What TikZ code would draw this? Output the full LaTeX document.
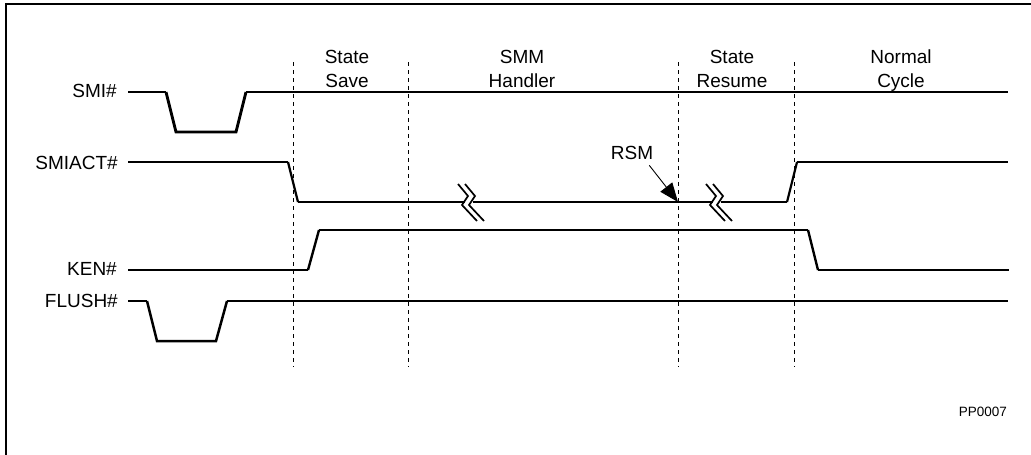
\documentclass[tikz,border=0pt]{standalone}
\usepackage{fontspec}
\setmainfont{Liberation Sans}
\usetikzlibrary{arrows.meta}
\begin{document}
\begin{tikzpicture}[x=1pt,y=-1pt,
  lbl/.style={font=\fontsize{19}{23}\selectfont, inner sep=0pt},
  small/.style={font=\fontsize{13.5}{16}\selectfont, inner sep=0pt},
  thinsig/.style={line width=1.8pt},
  thicksig/.style={line width=2.8pt},
  divider/.style={line width=1pt, dash pattern=on 4pt off 4pt},
  brk/.style={line width=1.7pt},
  brkfill/.style={fill=white, draw=none}]
\useasboundingbox (0,0) rectangle (1031,455);
% frame
\draw[line width=2.2pt] (6,456) -- (6,4) -- (1032,4);

% phase dividers
\foreach \xx/\nm in {293/d1,408/d2,678/d3,794/d4}{
  \coordinate (\nm t) at (\xx,62);
  \coordinate (\nm b) at (\xx,367);
  \draw[divider] (\nm t) -- (\nm b);
}

% header labels
\node[lbl, anchor=base] (h1a) at (347,63) {State};
\node[lbl, anchor=base] (h1b) at (347,87) {Save};
\node[lbl, anchor=base] (h2a) at (522,63) {SMM};
\node[lbl, anchor=base] (h2b) at (522,87) {Handler};
\node[lbl, anchor=base] (h3a) at (732,63) {State};
\node[lbl, anchor=base] (h3b) at (732,87) {Resume};
\node[lbl, anchor=base] (h4a) at (901,63) {Normal};
\node[lbl, anchor=base] (h4b) at (901,87) {Cycle};

% signal labels
\node[lbl, anchor=base east] (smi) at (117,97) {SMI\#};
\node[lbl, anchor=base east] (smiact) at (118,169) {SMIACT\#};
\node[lbl, anchor=base east] (ken) at (117,275) {KEN\#};
\node[lbl, anchor=base east] (flush) at (118,307) {FLUSH\#};

% SMI#
\draw[thinsig] (128,92) -- (166,92);
\draw[thicksig] (166,92) -- (176,132) -- (236,132) -- (246,92);
\draw[thinsig] (246,92) -- (1008,92);

% SMIACT#
\draw[thicksig] (128,162) -- (288,162);
\draw[line width=2.2pt] (288,162) -- (298,202);
\draw[thinsig] (298,202) -- (787,202);
\draw[line width=2.2pt] (787,202) -- (797,162);
\draw[thicksig] (797,162) -- (1008,162);

% breaks
\foreach \cx/\nm in {469/b1,717/b2}{
  \coordinate (\nm) at (\cx,202);
  \fill[brkfill] ([xshift=-4pt,yshift=-5pt]\nm) rectangle ([xshift=4pt,yshift=5pt]\nm);
  \draw[brk] ([xshift=8pt,yshift=-19pt]\nm) -- ([xshift=-7pt,yshift=-3pt]\nm) -- ([xshift=-1pt,yshift=6pt]\nm) -- ([xshift=-11pt,yshift=18pt]\nm);
  \draw[brk] ([xshift=15pt,yshift=-19pt]\nm) -- ([xshift=0pt,yshift=-3pt]\nm) -- ([xshift=6pt,yshift=6pt]\nm) -- ([xshift=-4pt,yshift=18pt]\nm);
}

% RSM
\node[lbl, anchor=base] (rsm) at (632,159) {RSM};
\coordinate (rsmtip) at (678,202);
\draw[line width=0.9pt, -{Triangle[length=19pt,width=15pt]}] (rsm.south east) ++(-4,6) coordinate (rsmfrom) -- (rsmtip);

% KEN#
\draw[thinsig] (128,270) -- (308,270);
\draw[line width=2.4pt] (308,270) -- (319,230);
\draw[thicksig] (319,230) -- (808,230);
\draw[line width=2.4pt] (808,230) -- (818,270);
\draw[thinsig] (818,270) -- (1009,270);

% FLUSH#
\draw[line width=1.5pt] (128,301) -- (147,301);
\draw[line width=2.5pt] (147,301) -- (157,341) -- (216,341) -- (227,301);
\draw[line width=1.5pt] (227,301) -- (1008,301);

\node[small, anchor=base east] (id) at (1007,416) {PP0007};
\end{tikzpicture}
\end{document}
